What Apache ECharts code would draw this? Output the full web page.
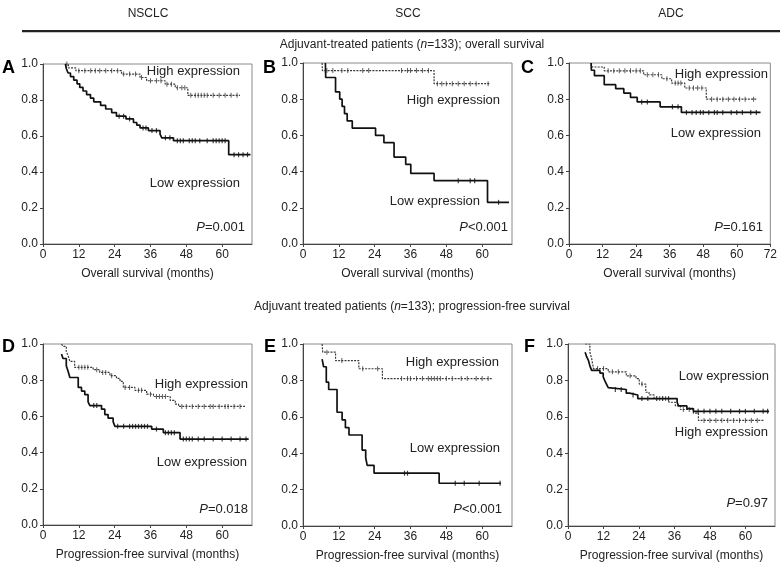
<!DOCTYPE html>
<html><head><meta charset="utf-8">
<script src="https://cdn.jsdelivr.net/npm/echarts@6/dist/echarts.min.js"></script>
<style>html,body{margin:0;padding:0;background:#fff}#c{width:780px;height:565px}</style>
</head><body><div id="c"></div>
<script>
// ---------- DATA ----------
const groupHeaders = ['NSCLC', 'SCC', 'ADC'];
const panelLetters = ['A', 'B', 'C', 'D', 'E', 'F'];
const pValues = ['=0.001', '<0.001', '=0.161', '=0.018', '<0.001', '=0.97'];
const xAxisNames = ['Overall survival (months)', 'Progression-free survival (months)'];
const xTickLabels = [0, 12, 24, 36, 48, 60];
const xTickLabelsC = [0, 12, 24, 36, 48, 60, 72];
const yTickLabels = [0, 0.2, 0.4, 0.6, 0.8, 1.0];
const xAxisMax = [70, 70, 72, 70, 70, 70];

// Panel A – NSCLC overall survival
const A_high_t = [7.5, 8.5, 11, 26.3, 32.5, 34.7, 40.9, 44.3, 48.5, 66];
const A_high_s = [1, 0.978, 0.963, 0.944, 0.925, 0.907, 0.888, 0.868, 0.826, 0.826];
const A_high_c = [8, 12, 14, 16, 17.5, 19, 21, 23, 25, 27, 29, 31, 33, 36, 38, 39.5, 41.5, 43, 45, 46.5, 47.5, 49.5, 51, 52, 53, 54, 55, 57, 59, 61, 63, 65];
const A_low_t = [7.5, 7.8, 8.4, 9.2, 10.3, 11.4, 12.3, 13.4, 14.6, 15.9, 17, 19.3, 21, 23, 24.6, 27.8, 30.3, 31.4, 32.5, 35.3, 39.2, 39.8, 43.7, 62.2, 69.5];
const A_low_s = [1, 0.975, 0.95, 0.93, 0.91, 0.89, 0.87, 0.85, 0.83, 0.81, 0.79, 0.77, 0.75, 0.73, 0.71, 0.695, 0.675, 0.66, 0.645, 0.63, 0.61, 0.59, 0.574, 0.496, 0.496];
const A_low_c = [25.5, 27, 29, 33.5, 34.5, 36.5, 38, 41, 42.5, 45, 46, 47, 49, 50, 51, 52.5, 55, 57, 58, 59, 60, 61, 64, 65.5, 67, 68.5];

// Panel B – SCC overall survival
const B_high_t = [6.4, 6.5, 43.9, 62.4];
const B_high_s = [1, 0.958, 0.886, 0.886];
const B_high_c = [7.5, 8, 10, 13, 15, 20, 22, 33, 35, 36, 38, 40, 42, 45, 46.5, 48, 50, 52, 54, 56, 58, 62];
const B_low_t = [7.5, 7.6, 10.9, 12.3, 13.1, 13.9, 14.8, 16.5, 24.3, 27.1, 30.5, 34.4, 36.1, 43.9, 61.8, 69];
const B_low_s = [1, 0.92, 0.84, 0.80, 0.76, 0.72, 0.68, 0.64, 0.60, 0.56, 0.48, 0.44, 0.39, 0.35, 0.23, 0.23];
const B_low_c = [52, 56, 57.5, 65.5];

// Panel C – ADC overall survival
const C_high_t = [7.9, 8.3, 12.6, 26.7, 33.2, 36.7, 41.4, 49.1, 67.3];
const C_high_s = [1, 0.978, 0.957, 0.935, 0.913, 0.889, 0.862, 0.80, 0.80];
const C_high_c = [14, 16, 18, 20, 22, 24, 25.5, 28, 30, 32, 35, 38, 39, 40, 43, 44.5, 46, 47.5, 51, 53, 55, 57, 59, 61, 63, 66];
const C_low_t = [7.9, 8.0, 9.1, 12.6, 16.7, 19.6, 22, 24.4, 32.6, 40.2, 68.5];
const C_low_s = [1, 0.96, 0.93, 0.88, 0.858, 0.834, 0.81, 0.785, 0.758, 0.727, 0.727];
const C_low_c = [26, 28, 37, 39, 42, 44, 45.5, 47, 48, 50, 52, 53, 55, 58, 60, 62, 65, 67];

// Panel D – NSCLC progression-free survival
const D_high_t = [6.2, 6.7, 7.8, 8.4, 9.0, 10.6, 16.8, 19, 22.4, 24.6, 25.8, 26.9, 30.8, 34.7, 37, 42.6, 44.3, 45.4, 67.8];
const D_high_s = [1, 0.987, 0.959, 0.935, 0.904, 0.871, 0.858, 0.843, 0.825, 0.81, 0.793, 0.76, 0.744, 0.723, 0.71, 0.688, 0.668, 0.655, 0.655];
const D_high_c = [12, 13, 14, 15, 18, 20, 21, 23, 27.5, 29, 32, 33, 36, 38, 39, 40, 41, 46.5, 48, 50, 52, 54, 56, 57, 59, 61, 62, 64, 66];
const D_low_t = [6.2, 6.7, 7.8, 8.4, 9.0, 11.8, 12.9, 14.0, 15.1, 15.7, 19.6, 20.7, 21.8, 23.5, 24.1, 36.4, 40.3, 45.9, 68.9];
const D_low_s = [0.945, 0.92, 0.88, 0.85, 0.815, 0.76, 0.74, 0.72, 0.68, 0.66, 0.64, 0.61, 0.59, 0.57, 0.545, 0.53, 0.51, 0.475, 0.475];
const D_low_c = [17, 18, 25, 27, 29, 30, 31, 32, 33, 34, 35, 38, 41, 42, 43, 44, 47, 48, 49, 50, 52, 54, 57, 60, 63, 66, 68];

// Panel E – SCC progression-free survival
const E_high_t = [6.4, 6.6, 10.9, 18.7, 26.6, 63.5];
const E_high_s = [1, 0.955, 0.909, 0.864, 0.81, 0.81];
const E_high_c = [8, 13, 20, 25, 33, 35, 36, 38, 40, 42, 43, 44, 45, 46, 48, 50, 53, 55, 58, 60, 62];
const E_low_t = [6.4, 6.9, 7.8, 8.6, 11.4, 13.1, 14.2, 15.4, 19.8, 21, 21.5, 23.8, 45.6, 66.3];
const E_low_s = [0.917, 0.875, 0.79, 0.75, 0.625, 0.583, 0.54, 0.5, 0.417, 0.375, 0.333, 0.29, 0.235, 0.235];
const E_low_c = [34, 35, 51, 54, 59, 66];

// Panel F – ADC progression-free survival
const F_high_t = [5.8, 7.4, 8.0, 8.6, 13.6, 19.7, 23, 24.1, 26.3, 27.4, 29.1, 34.1, 36.3, 38, 42.4, 44.1, 66.3];
const F_high_s = [1, 0.955, 0.92, 0.865, 0.847, 0.825, 0.81, 0.78, 0.735, 0.72, 0.70, 0.68, 0.66, 0.64, 0.62, 0.58, 0.58];
const F_high_c = [10, 12, 15, 17, 21, 25, 31, 33, 39, 41, 46, 48, 50, 52, 54, 56, 58, 60, 62, 64];
const F_low_t = [5.8, 6.3, 6.9, 7.4, 8.0, 10.8, 11.9, 12.4, 13.0, 13.6, 14.1, 19.7, 20.8, 23.6, 36.9, 37.4, 40.2, 42.4, 68];
const F_low_s = [0.955, 0.93, 0.91, 0.88, 0.855, 0.84, 0.82, 0.80, 0.78, 0.76, 0.75, 0.73, 0.72, 0.70, 0.68, 0.66, 0.645, 0.63, 0.63];
const F_low_c = [16, 18, 22, 25, 27, 30, 32, 34, 44, 46, 48, 50, 52, 55, 58, 60, 63, 66, 67.5];

// ---------- LAYOUT / STYLE ----------
const FONT = '"Liberation Sans", Arial, Helvetica, sans-serif';
const grids = [
  {left: 43, top: 64, width: 209, height: 180},
  {left: 303, top: 63, width: 209, height: 181},
  {left: 569, top: 63, width: 204, height: 181},
  {left: 43, top: 344, width: 209, height: 181},
  {left: 303, top: 344, width: 209, height: 182},
  {left: 568, top: 344, width: 207, height: 182}
];
const curves = [
  {ht: A_high_t, hs: A_high_s, hc: A_high_c, lt: A_low_t, ls: A_low_s, lc: A_low_c},
  {ht: B_high_t, hs: B_high_s, hc: B_high_c, lt: B_low_t, ls: B_low_s, lc: B_low_c},
  {ht: C_high_t, hs: C_high_s, hc: C_high_c, lt: C_low_t, ls: C_low_s, lc: C_low_c},
  {ht: D_high_t, hs: D_high_s, hc: D_high_c, lt: D_low_t, ls: D_low_s, lc: D_low_c},
  {ht: E_high_t, hs: E_high_s, hc: E_high_c, lt: E_low_t, ls: E_low_s, lc: E_low_c},
  {ht: F_high_t, hs: F_high_s, hc: F_high_c, lt: F_low_t, ls: F_low_s, lc: F_low_c}
];

function pairs(t, s) { return t.map((x, i) => [x, s[i]]); }
function survAt(t, s, x) { let v = s[0]; for (let i = 0; i < t.length; i++) { if (t[i] <= x) v = s[i]; } return v; }
function censors(t, s, c) { return c.map(x => [x, survAt(t, s, x)]); }

const HIGH_COLOR = '#3a3a3a', LOW_COLOR = '#111';
const xAxes = [], yAxes = [], series = [];
grids.forEach((g, i) => {
  const ticks = i === 2 ? xTickLabelsC : xTickLabels;
  xAxes.push({
    gridIndex: i, type: 'value', min: 0, max: xAxisMax[i], interval: 12,
    name: xAxisNames[i < 3 ? 0 : 1], nameLocation: 'middle', nameGap: 24,
    nameTextStyle: {fontFamily: FONT, fontSize: 12, color: '#222'},
    axisLine: {show: true, onZero: false, lineStyle: {color: '#444', width: 1}},
    axisTick: {show: true, length: 3, lineStyle: {color: '#444'}, customValues: ticks},
    axisLabel: {fontFamily: FONT, fontSize: 12, color: '#222', margin: 5, customValues: ticks},
    splitLine: {show: false}
  });
  yAxes.push({
    gridIndex: i, type: 'value', min: 0, max: 1, interval: 0.2,
    axisLine: {show: true, onZero: false, lineStyle: {color: '#444', width: 1}},
    axisTick: {show: true, length: 3, lineStyle: {color: '#444'}},
    axisLabel: {fontFamily: FONT, fontSize: 12, color: '#222', margin: 5, formatter: v => v.toFixed(1), customValues: yTickLabels},
    splitLine: {show: false}
  });
  const c = curves[i];
  series.push({
    type: 'line', xAxisIndex: i, yAxisIndex: i, step: 'end', showSymbol: false, silent: true,
    data: pairs(c.ht, c.hs), lineStyle: {color: HIGH_COLOR, width: 1.2, type: [2, 1.2]}
  });
  series.push({
    type: 'line', xAxisIndex: i, yAxisIndex: i, step: 'end', showSymbol: false, silent: true,
    data: pairs(c.lt, c.ls), lineStyle: {color: LOW_COLOR, width: 1.7}
  });
  series.push({
    type: 'scatter', xAxisIndex: i, yAxisIndex: i, symbol: 'rect', symbolSize: [1, 5], silent: true,
    data: censors(c.ht, c.hs, c.hc), itemStyle: {color: HIGH_COLOR}
  });
  series.push({
    type: 'scatter', xAxisIndex: i, yAxisIndex: i, symbol: 'rect', symbolSize: [1.2, 5], silent: true,
    data: censors(c.lt, c.ls, c.lc), itemStyle: {color: LOW_COLOR}
  });
});

// text annotations (positions are layout, not data)
const labelPos = [
  {high: [240, 71], low: [240, 183], p: [245, 227]},
  {high: [500, 100], low: [480, 201], p: [508, 227]},
  {high: [768, 74], low: [761, 133], p: [763, 227]},
  {high: [248, 384], low: [247, 462], p: [248, 509]},
  {high: [499, 362], low: [500, 448], p: [502, 509]},
  {high: [768, 432], low: [769, 376], p: [768, 503]}
];
const letterPos = [[2, 68], [263, 68], [521, 68], [2, 347], [264, 347], [524, 347]];
const headerX = [148, 408, 671];

const graphic = [];
const txt = (x, y, text, extra) => Object.assign({
  type: 'text', x: x, y: y, silent: true,
  style: Object.assign({text: text, fontFamily: FONT, fontSize: 12, fill: '#222', align: 'center', verticalAlign: 'middle'}, extra || {})
});
groupHeaders.forEach((h, i) => graphic.push(txt(headerX[i], 14, h, {fontSize: 12})));
graphic.push({type: 'rect', silent: true, shape: {x: 22, y: 30, width: 758, height: 2.2}, style: {fill: '#222'}});
graphic.push(txt(412, 45, '', {
  text: 'Adjuvant-treated patients ({i|n}=133); overall survival',
  rich: {i: {fontStyle: 'italic', fontFamily: FONT, fontSize: 12, fill: '#222'}}
}));
graphic.push(txt(412, 307, '', {
  text: 'Adjuvant treated patients ({i|n}=133); progression-free survival',
  rich: {i: {fontStyle: 'italic', fontFamily: FONT, fontSize: 12, fill: '#222'}}
}));
panelLetters.forEach((L, i) => {
  graphic.push(txt(letterPos[i][0], letterPos[i][1], L, {align: 'left', fontSize: 18, fontWeight: 'bold', fill: '#000'}));
  const lp = labelPos[i];
  graphic.push(txt(lp.high[0], lp.high[1], 'High expression', {align: 'right', fontSize: 13}));
  graphic.push(txt(lp.low[0], lp.low[1], 'Low expression', {align: 'right', fontSize: 13}));
  graphic.push(txt(lp.p[0], lp.p[1], '', {
    align: 'right', fontSize: 13, text: '{i|P}' + pValues[i],
    rich: {i: {fontStyle: 'italic', fontFamily: FONT, fontSize: 13, fill: '#222'}}
  }));
});

const chart = echarts.init(document.getElementById('c'), null, {renderer: 'canvas'});
chart.setOption({
  animation: false,
  backgroundColor: '#fff',
  grid: grids.map(g => Object.assign({show: true, borderColor: '#8a8a8a', borderWidth: 1, backgroundColor: 'transparent', containLabel: false}, g)),
  xAxis: xAxes,
  yAxis: yAxes,
  series: series,
  graphic: graphic
});
</script>
</body></html>
